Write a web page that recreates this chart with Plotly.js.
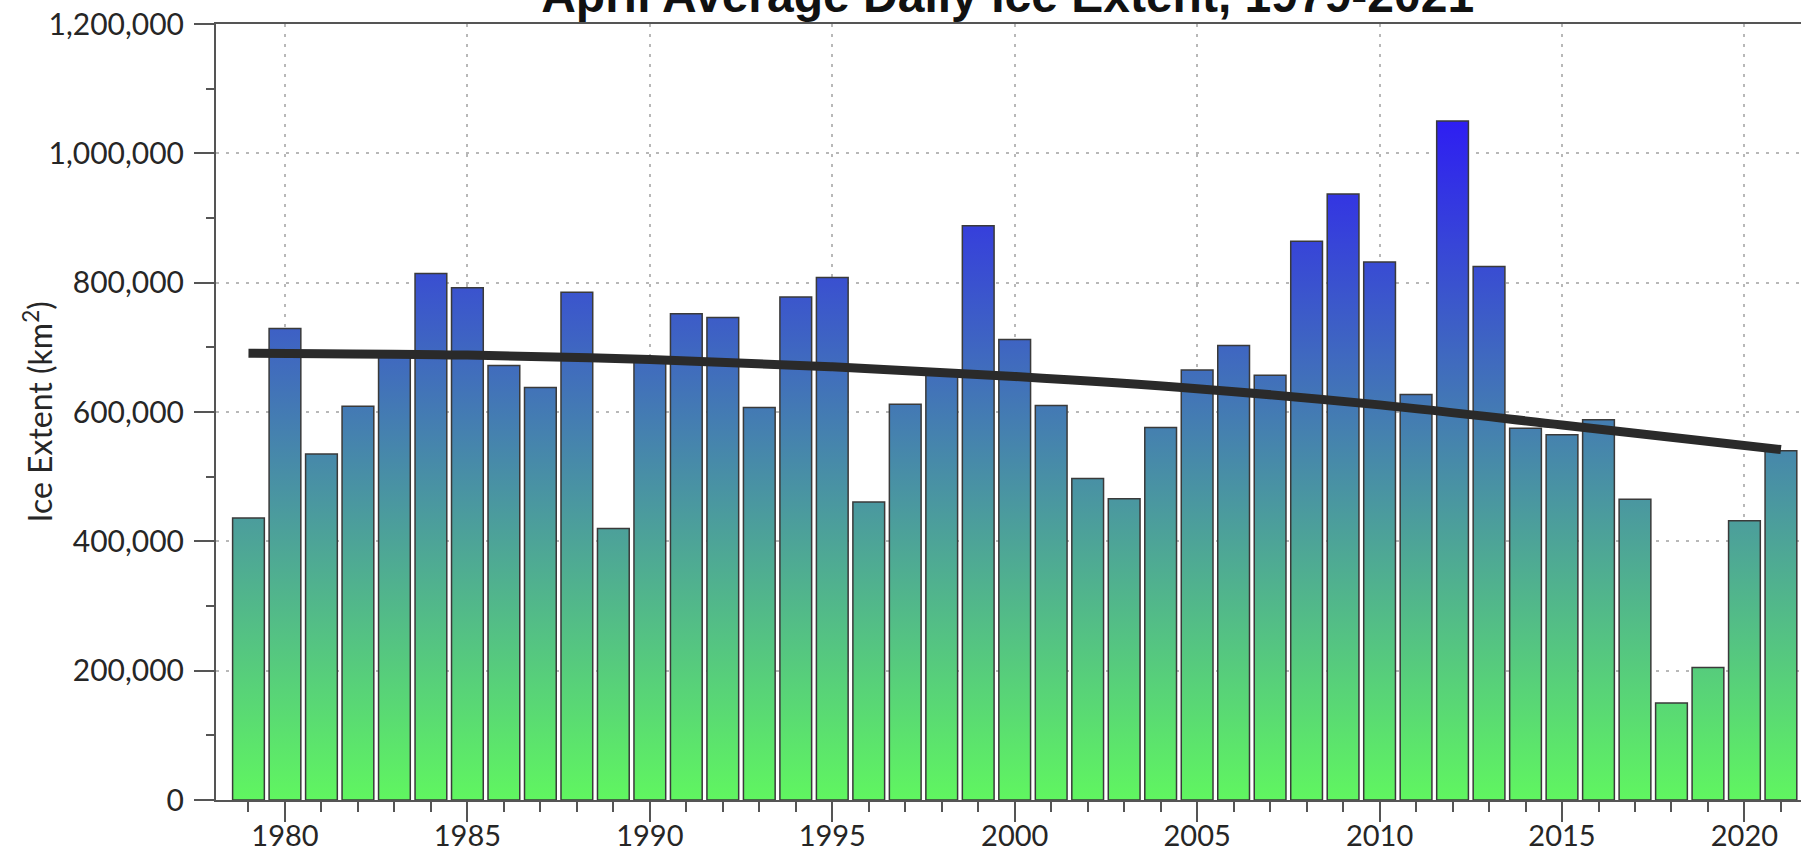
<!DOCTYPE html>
<html>
<head>
<meta charset="utf-8">
<script src="https://cdn.plot.ly/plotly-3.0.1.min.js"></script>
<style>
  html, body { margin: 0; padding: 0; background: #ffffff; }
  #chart { width: 1801px; height: 853px; }
</style>
</head>
<body>
<div id="chart"></div>
<script>
// ---- data ----
const years = [1979, 1980, 1981, 1982, 1983, 1984, 1985, 1986, 1987, 1988,
               1989, 1990, 1991, 1992, 1993, 1994, 1995, 1996, 1997, 1998,
               1999, 2000, 2001, 2002, 2003, 2004, 2005, 2006, 2007, 2008,
               2009, 2010, 2011, 2012, 2013, 2014, 2015, 2016, 2017, 2018,
               2019, 2020, 2021];
const extent = [436000, 729000, 535000, 609000, 686000, 814000, 792000, 672000, 638000, 785000,
                420000, 677000, 752000, 746000, 607000, 778000, 808000, 461000, 612000, 657000,
                888000, 712000, 610000, 497000, 466000, 576000, 665000, 703000, 657000, 864000,
                937000, 832000, 627000, 1050000, 825000, 575000, 565000, 588000, 465000, 150000,
                205000, 432000, 540000];
const trendYears  = [1979, 1985, 1990, 1995, 2000, 2005, 2010, 2015, 2021];
const trendExtent = [691000, 688000, 681000, 670000, 655000, 636000, 611000, 580000, 542000];

const titleText  = 'April Average Daily Ice Extent, 1979-2021';
const yTitleText = 'Ice Extent (km<sup>2</sup>)';

// gradient of the bar fill (bottom colour at 0, top colour at gradTopValue)
const gradBottom = 'rgb(96,246,96)';
const gradTop = 'rgb(46,30,242)';
const gradTopValue = 1050000;

const axisColor = '#555555';
const gridColor = '#b8b8b8';
const fontFam = 'Lato, "Open Sans", sans-serif';

const data = [
  {
    type: 'bar',
    x: years,
    y: extent,
    marker: { color: gradBottom, line: { color: '#3a3a3a', width: 1.5 } },
    hoverinfo: 'skip'
  },
  {
    type: 'scatter',
    mode: 'lines',
    x: trendYears,
    y: trendExtent,
    line: { color: '#2a2a2a', width: 9, shape: 'spline' },
    hoverinfo: 'skip'
  }
];

const layout = {
  width: 1801,
  height: 853,
  margin: { l: 216, r: 0, t: 24, b: 53, pad: 0 },
  paper_bgcolor: '#ffffff',
  plot_bgcolor: '#ffffff',
  showlegend: false,
  bargap: 0.13,
  title: {
    text: titleText,
    font: { family: '"Liberation Sans", Arial, sans-serif', size: 48, color: '#111111', weight: 'bold' },
    xref: 'container', yref: 'container',
    x: 0.5595, xanchor: 'center',
    y: 0.986, yanchor: 'bottom'
  },
  xaxis: {
    range: [1978.11, 2021.55],
    tick0: 1980, dtick: 5,
    ticks: 'outside', ticklen: 20, tickwidth: 2, tickcolor: axisColor,
    ticklabelstandoff: -11,
    showline: true, linecolor: axisColor, linewidth: 2, mirror: true,
    showgrid: true, gridcolor: gridColor, gridwidth: 2, griddash: '3px,7px',
    zeroline: false,
    tickfont: { family: fontFam, size: 29, color: '#262626' },
    minor: { tick0: 1979, dtick: 1, ticks: 'outside', ticklen: 10, tickwidth: 2, tickcolor: axisColor, showgrid: false }
  },
  yaxis: {
    range: [0, 1200000],
    dtick: 200000,
    tickformat: ',d',
    ticks: 'outside', ticklen: 20, tickwidth: 2, tickcolor: axisColor,
    ticklabelstandoff: 4,
    showline: true, linecolor: axisColor, linewidth: 2,
    showgrid: true, gridcolor: gridColor, gridwidth: 2, griddash: '3px,7px',
    zeroline: false,
    tickfont: { family: fontFam, size: 30, color: '#262626' },
    minor: { dtick: 100000, ticks: 'outside', ticklen: 8, tickwidth: 2, tickcolor: axisColor, showgrid: false }
  },
  annotations: [
    {
      text: yTitleText,
      xref: 'paper', yref: 'paper',
      x: -0.1126, y: 0.5,
      xanchor: 'center', yanchor: 'middle',
      textangle: -90,
      showarrow: false,
      font: { family: fontFam, size: 32, color: '#262626' }
    }
  ]
};

function applyGradient(gd) {
  const ya = gd._fullLayout.yaxis;
  const NS = 'http://www.w3.org/2000/svg';
  const svg = gd.querySelector('svg.main-svg');
  let defs = svg.querySelector('defs');
  if (!defs) { defs = document.createElementNS(NS, 'defs'); svg.insertBefore(defs, svg.firstChild); }
  const grad = document.createElementNS(NS, 'linearGradient');
  grad.setAttribute('id', 'barGrad');
  grad.setAttribute('gradientUnits', 'userSpaceOnUse');
  grad.setAttribute('x1', 0); grad.setAttribute('x2', 0);
  grad.setAttribute('y1', ya.l2p(0));
  grad.setAttribute('y2', ya.l2p(gradTopValue));
  [[0, gradBottom], [1, gradTop]].forEach(function (s) {
    const st = document.createElementNS(NS, 'stop');
    st.setAttribute('offset', s[0]);
    st.setAttribute('stop-color', s[1]);
    grad.appendChild(st);
  });
  defs.appendChild(grad);
  gd.querySelectorAll('.barlayer .point path').forEach(function (p) {
    p.style.fill = 'url(#barGrad)';
  });
}

Plotly.newPlot('chart', data, layout, { displayModeBar: false, staticPlot: true })
  .then(applyGradient);
</script>
</body>
</html>
